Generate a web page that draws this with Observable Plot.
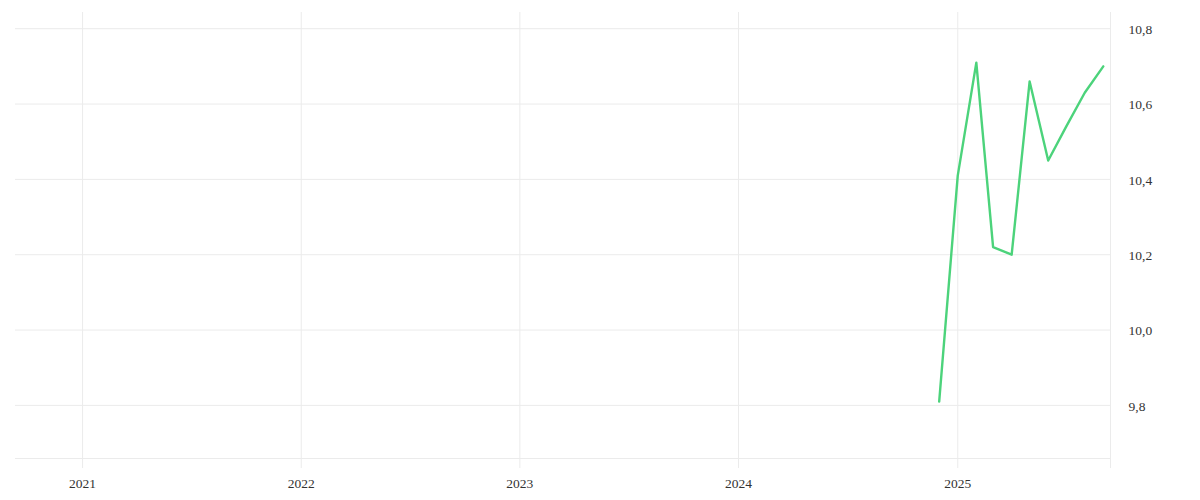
<!DOCTYPE html>
<html>
<head>
<meta charset="utf-8">
<script src="https://cdn.jsdelivr.net/npm/d3@7"></script>
<script src="https://cdn.jsdelivr.net/npm/@observablehq/plot@0.6"></script>
<style>
  html, body { margin: 0; padding: 0; background: #fff; }
  #chart { width: 1200px; height: 500px; }
  svg { font-family: "Liberation Serif", serif; }
</style>
</head>
<body>
<div id="chart"></div>
<script>
const months = ["2024-12-01","2025-01-01","2025-02-01","2025-03-01","2025-04-01","2025-05-01","2025-06-01","2025-07-01","2025-08-01","2025-09-01"];
const values = [9.81, 10.41, 10.71, 10.22, 10.20, 10.66, 10.45, 10.54, 10.63, 10.70];
const yTicks = [9.8, 10.0, 10.2, 10.4, 10.6, 10.8];
const xTicks = ["2021-01-01","2022-01-01","2023-01-01","2024-01-01","2025-01-01"];

const data = months.map((m, i) => ({date: new Date(m + "T00:00:00Z"), value: values[i]}));
const xDomain = [new Date("2020-09-11T00:00:00Z"), new Date("2025-09-13T00:00:00Z")];
const yDomain = [9.659, 10.843];
const yearDates = xTicks.map(d => new Date(d + "T00:00:00Z"));
const fmt = v => d3.format(".1f")(v).replace(".", ",");

const grid = "#ebebeb";

const chart = Plot.plot({
  width: 1200,
  height: 500,
  marginLeft: 15,
  marginRight: 90,
  marginTop: 12,
  marginBottom: 42,
  style: {fontFamily: "'Liberation Serif', serif", fontSize: "13px", color: "#333", background: "#fff"},
  x: {type: "utc", domain: xDomain},
  y: {domain: yDomain},
  marks: [
    Plot.ruleY(yTicks, {stroke: grid, strokeWidth: 1}),
    Plot.ruleY([yDomain[0]], {stroke: grid, strokeWidth: 1}),
    Plot.ruleX(yearDates, {stroke: grid, strokeWidth: 1, insetBottom: -10}),
    Plot.ruleX([xDomain[1]], {stroke: grid, strokeWidth: 1, insetBottom: -10}),
    Plot.axisY(yTicks, {anchor: "right", tickSize: 0, tickPadding: 18, textAnchor: "start", tickFormat: fmt, fill: "#333", label: null, fontSize: 13.5, dy: 1}),
    Plot.axisX(yearDates, {anchor: "bottom", tickSize: 0, tickPadding: 20, tickFormat: d3.utcFormat("%Y"), fill: "#333", label: null, fontSize: 13.5}),
    Plot.line(data, {x: "date", y: "value", stroke: "#4cd37b", strokeWidth: 2.4})
  ]
});
document.getElementById("chart").appendChild(chart);
</script>
</body>
</html>
